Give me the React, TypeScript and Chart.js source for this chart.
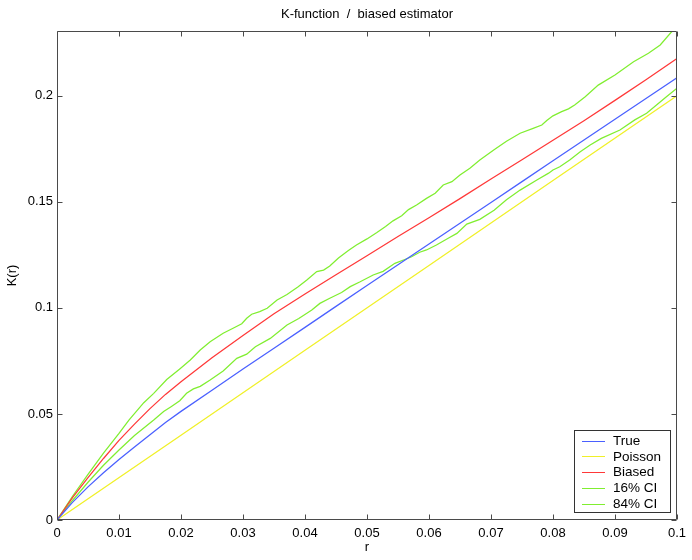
import React, { useEffect, useRef } from "react";
import { Chart, registerables } from "chart.js";

Chart.register(...registerables);

// ---- data ----
const titleText = "K-function  /  biased estimator";
const xLabel = "r";
const yLabel = "K(r)";

const xTicks = [0, 0.01, 0.02, 0.03, 0.04, 0.05, 0.06, 0.07, 0.08, 0.09, 0.1];
const yTicks = [0, 0.05, 0.1, 0.15, 0.2];

const seriesNames = ["True", "Poisson", "Biased", "16% CI", "84% CI"];
const seriesColors = ["#4a60ff", "#f0f028", "#ff3838", "#80ee30", "#80ee30"];

const rGrid = [0, 0.0025, 0.005, 0.0075, 0.01, 0.0125, 0.015, 0.0175, 0.02, 0.025, 0.03, 0.035, 0.04, 0.045, 0.05, 0.055, 0.06, 0.065, 0.07, 0.075, 0.08, 0.085, 0.09, 0.095, 0.1];
const kTrue = [0, 0.0083, 0.0156, 0.0223, 0.0285, 0.0344, 0.0402, 0.046, 0.0512, 0.0612, 0.0712, 0.081, 0.0908, 0.1007, 0.1105, 0.1203, 0.1301, 0.1399, 0.1497, 0.1595, 0.1693, 0.1791, 0.1889, 0.1987, 0.2085];
const kBiased = [0, 0.0105, 0.02, 0.029, 0.0375, 0.0452, 0.0525, 0.0592, 0.0652, 0.0765, 0.087, 0.0972, 0.1065, 0.1156, 0.1246, 0.1336, 0.1425, 0.1515, 0.1607, 0.1698, 0.179, 0.1882, 0.1978, 0.2075, 0.2175];

const rPoisson = [0, 0.02, 0.04, 0.06, 0.08, 0.1];
const kPoisson = [0, 0.04, 0.08, 0.12, 0.16, 0.2];

const rLow = [0, 0.0025, 0.005, 0.0075, 0.01, 0.0125, 0.0156, 0.0172, 0.0184, 0.0198, 0.0209, 0.022, 0.0231, 0.0247, 0.0268, 0.029, 0.0306, 0.032, 0.0344, 0.0371, 0.039, 0.0411, 0.0424, 0.044, 0.0459, 0.0473, 0.0489, 0.051, 0.0526, 0.0545, 0.0561, 0.0572, 0.0585, 0.0596, 0.0612, 0.0631, 0.0645, 0.0661, 0.0682, 0.0705, 0.0725, 0.0747, 0.0774, 0.0793, 0.08, 0.0811, 0.0827, 0.0844, 0.086, 0.0878, 0.0908, 0.0932, 0.0951, 0.0967, 0.0983, 0.1];
const kLow = [0, 0.0092, 0.0178, 0.0258, 0.033, 0.0398, 0.0471, 0.0511, 0.0534, 0.0562, 0.0597, 0.0618, 0.063, 0.066, 0.0702, 0.0762, 0.0782, 0.0817, 0.0856, 0.0919, 0.095, 0.099, 0.1021, 0.1045, 0.1072, 0.11, 0.1123, 0.1155, 0.1172, 0.121, 0.1228, 0.1241, 0.1262, 0.1273, 0.1296, 0.1328, 0.1351, 0.1395, 0.1417, 0.146, 0.151, 0.1555, 0.1603, 0.1635, 0.165, 0.1665, 0.1697, 0.1736, 0.1768, 0.1799, 0.1838, 0.1886, 0.1917, 0.1956, 0.1995, 0.2035];

const rHigh = [0, 0.0025, 0.005, 0.0075, 0.01, 0.0116, 0.014, 0.0156, 0.0177, 0.0198, 0.0215, 0.0231, 0.0247, 0.0268, 0.0284, 0.0298, 0.0306, 0.0314, 0.0327, 0.0339, 0.0355, 0.0371, 0.0389, 0.0403, 0.0419, 0.043, 0.044, 0.0454, 0.047, 0.0483, 0.05, 0.0516, 0.053, 0.0542, 0.0556, 0.0567, 0.058, 0.0596, 0.061, 0.0623, 0.0637, 0.065, 0.0666, 0.0682, 0.0705, 0.0725, 0.0747, 0.0768, 0.0782, 0.079, 0.08, 0.0814, 0.0825, 0.0835, 0.0852, 0.0873, 0.09, 0.093, 0.0954, 0.0973, 0.0991, 0.1];
const kHigh = [0, 0.0112, 0.0215, 0.0315, 0.0408, 0.0471, 0.0553, 0.0597, 0.0662, 0.0712, 0.0754, 0.0801, 0.084, 0.088, 0.0904, 0.0925, 0.0951, 0.097, 0.0982, 0.0998, 0.1037, 0.1063, 0.11, 0.1131, 0.1171, 0.1178, 0.1197, 0.1235, 0.127, 0.1296, 0.1325, 0.1355, 0.1383, 0.141, 0.1434, 0.1463, 0.1485, 0.1516, 0.154, 0.1579, 0.1595, 0.1626, 0.1658, 0.1697, 0.1745, 0.1785, 0.1823, 0.1846, 0.1862, 0.1883, 0.1905, 0.1925, 0.1938, 0.1956, 0.1995, 0.205, 0.2098, 0.216, 0.22, 0.2239, 0.23, 0.2315];

const xMin = 0;
const xMax = 0.1;
const yMin = 0;
const yMax = 0.2305;

const FONT = '"Liberation Sans", Arial, Helvetica, sans-serif';

const toPts = (xs: number[], ys: number[]) => xs.map((x, i) => ({ x, y: ys[i] }));
const fmt = (v: number) => String(Number(v.toFixed(4)));

const axesPlugin = {
  id: "matlabAxes",
  afterDatasetsDraw(chart: any) {
    const { ctx, chartArea, scales } = chart;
    const { left, right, top, bottom } = chartArea;
    const xs = scales.x;
    const ys = scales.y;
    ctx.save();
    ctx.strokeStyle = "#4a4a4a";
    ctx.lineWidth = 1;
    const L = Math.round(left) + 0.5;
    const R = Math.round(right) - 0.5;
    const T = Math.round(top) + 0.5;
    const B = Math.round(bottom) - 0.5;
    ctx.beginPath();
    ctx.rect(L, T, R - L, B - T);
    const tl = 5;
    xTicks.forEach((v) => {
      const p = Math.round(xs.getPixelForValue(v)) + 0.5;
      ctx.moveTo(p, B);
      ctx.lineTo(p, B - tl);
      ctx.moveTo(p, T);
      ctx.lineTo(p, T + tl);
    });
    yTicks.forEach((v) => {
      const p = Math.round(ys.getPixelForValue(v)) + 0.5;
      ctx.moveTo(L, p);
      ctx.lineTo(L + tl, p);
      ctx.moveTo(R, p);
      ctx.lineTo(R - tl, p);
    });
    ctx.stroke();

    // titles
    ctx.fillStyle = "#000";
    ctx.font = `13px ${FONT}`;
    ctx.textAlign = "center";
    ctx.textBaseline = "middle";
    const cx = (left + right) / 2;
    ctx.fillText(titleText, cx, 14);
    ctx.fillText(xLabel, cx, 547);
    ctx.save();
    ctx.translate(12, (top + bottom) / 2);
    ctx.rotate(-Math.PI / 2);
    ctx.fillText(yLabel, 0, 0);
    ctx.restore();

    // legend
    const bx = 574.5, by = 430.5, bw = 96, bh = 82;
    ctx.fillStyle = "#fff";
    ctx.fillRect(bx, by, bw, bh);
    ctx.strokeStyle = "#333";
    ctx.lineWidth = 1;
    ctx.strokeRect(bx, by, bw, bh);
    ctx.font = `13.5px ${FONT}`;
    ctx.textAlign = "left";
    ctx.textBaseline = "middle";
    chart.data.datasets.forEach((ds: any, i: number) => {
      const yy = 440.5 + i * 15.8;
      ctx.strokeStyle = ds.borderColor;
      ctx.lineWidth = 1;
      ctx.beginPath();
      ctx.moveTo(582, Math.round(yy) + 0.5);
      ctx.lineTo(605, Math.round(yy) + 0.5);
      ctx.stroke();
      ctx.fillStyle = "#000";
      ctx.fillText(ds.label, 613, yy + 0.5);
    });
    ctx.restore();
  },
};

export default function App() {
  const ref = useRef<HTMLCanvasElement | null>(null);

  useEffect(() => {
    if (!ref.current) return;
    const seriesData = [
      toPts(rGrid, kTrue),
      toPts(rPoisson, kPoisson),
      toPts(rGrid, kBiased),
      toPts(rLow, kLow),
      toPts(rHigh, kHigh),
    ];
    const chart = new Chart(ref.current, {
      type: "line",
      data: {
        datasets: seriesNames.map((name, i) => ({
          label: name,
          data: seriesData[i],
          borderColor: seriesColors[i],
          backgroundColor: seriesColors[i],
          borderWidth: 1.25,
          pointRadius: 0,
          fill: false,
          tension: 0,
        })),
      },
      options: {
        responsive: false,
        animation: false,
        events: [],
        layout: { padding: { top: 31, right: 15, left: 0, bottom: 0 } },
        plugins: {
          legend: { display: false },
          title: { display: false },
          tooltip: { enabled: false },
        },
        scales: {
          x: {
            type: "linear",
            min: xMin,
            max: xMax,
            grid: { display: false, drawTicks: false },
            border: { display: false },
            ticks: {
              color: "#000",
              font: { family: FONT, size: 13 },
              padding: 6,
              maxRotation: 0,
              autoSkip: false,
              callback: (v: any) => fmt(Number(v)),
            },
            afterBuildTicks: (s: any) => {
              s.ticks = xTicks.map((v) => ({ value: v }));
            },
            afterFit: (s: any) => {
              s.height = 40;
            },
          },
          y: {
            type: "linear",
            min: yMin,
            max: yMax,
            grid: { display: false, drawTicks: false },
            border: { display: false },
            ticks: {
              color: "#000",
              font: { family: FONT, size: 13 },
              padding: 4,
              autoSkip: false,
              callback: (v: any) => fmt(Number(v)),
            },
            afterBuildTicks: (s: any) => {
              s.ticks = yTicks.map((v) => ({ value: v }));
            },
            afterFit: (s: any) => {
              s.width = 57;
            },
          },
        },
      } as any,
      plugins: [axesPlugin],
    });
    return () => chart.destroy();
  }, []);

  return (
    <div style={{ position: "absolute", left: 0, top: 0, width: 692, height: 560, background: "#fff" }}>
      <canvas ref={ref} width={692} height={560} style={{ display: "block", width: 692, height: 560 }} />
    </div>
  );
}
